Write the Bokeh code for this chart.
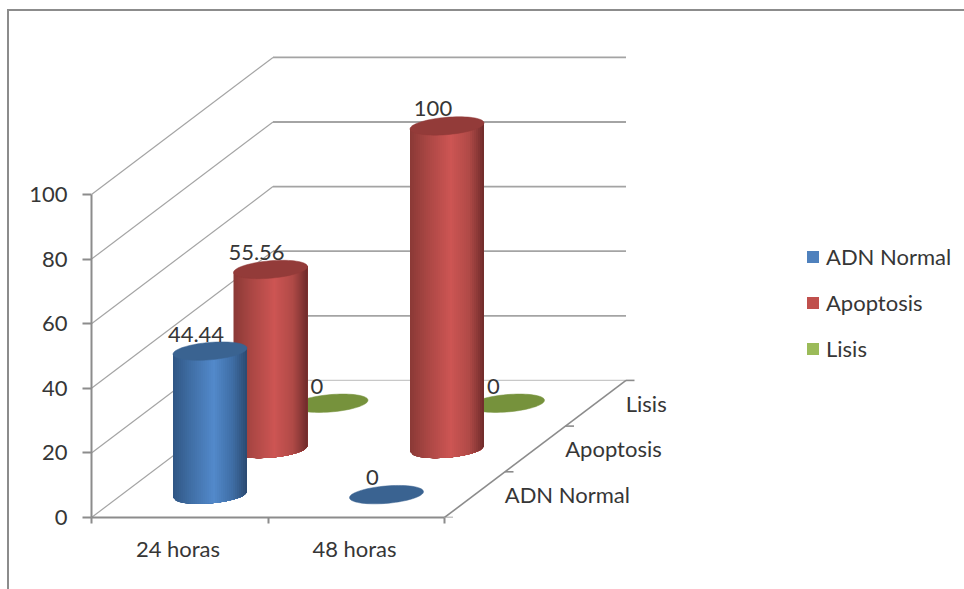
import numpy as np
from bokeh.core.properties import value
from bokeh.embed import file_html
from bokeh.models import (ColumnDataSource, FixedTicker, InlineStyleSheet, Legend, LegendItem,
                          LinearAxis, Range1d)
from bokeh.plotting import figure
from bokeh.resources import INLINE

categories = ["24 horas", "48 horas"]
series_names = ["ADN Normal", "Apoptosis", "Lisis"]
adn_normal = [44.44, 0]
apoptosis = [55.56, 100]
lisis = [0, 0]
value_ticks = [0, 20, 40, 60, 80, 100]

FONT = "Lato"
FONT_SIZE = "22px"
TEXT = "#363636"
AXIS = "#8c8c8c"
GRID = "#a4a4a4"

# Oblique projection: one depth step moves a point right and up, in data units.
PX_PER_CAT = 176.5
PX_PER_VAL = 3.23
DEPTH_X = 60.5 / PX_PER_CAT
DEPTH_Y = 45.7 / PX_PER_VAL
N_DEPTH = len(series_names)
N_CAT = len(categories)
VAL_MAX = value_ticks[-1]

# Cylinder footprint, a sheared ellipse.
RX = 37 / PX_PER_CAT
RY = 8.7 / PX_PER_VAL
TILT = 3 / PX_PER_VAL

STYLES = {
    "ADN Normal": dict(legend="#4f81bd", cap="#3a6391",
                       stops=["#2f5684", "#3f6da3", "#5289cb", "#3f6ea6", "#2b4a70"]),
    "Apoptosis": dict(legend="#c0504d", cap="#933b39",
                      stops=["#8a3936", "#a84643", "#cd5553", "#b04a47", "#6f2b2a"]),
    "Lisis": dict(legend="#9bbb59", cap="#76923c",
                  stops=["#5f7a30", "#76923c", "#9bbb59", "#76923c", "#566e2b"]),
}


def project(cat, depth, val):
    return cat + depth * DEPTH_X, val + depth * DEPTH_Y


def shade(stops, u):
    rgb = np.array([[int(c[i:i + 2], 16) for i in (1, 3, 5)] for c in stops], float)
    pos = [-1, -0.55, 0.1, 0.6, 1]
    vals = [int(round(np.interp(u, pos, rgb[:, k]))) for k in range(3)]
    return "#%02x%02x%02x" % tuple(vals)


def ellipse_outline(cx, cy, n=72):
    t = np.linspace(0, 2 * np.pi, n)
    return (cx + RX * np.cos(t)).tolist(), (cy + RY * np.sin(t) + TILT * np.cos(t)).tolist()


def body_strips(cx, base, top, stops, n=37):
    # Each band reaches the right edge and the next one paints over it,
    # which leaves no seams between neighbouring shades.
    edges = np.linspace(-1, 1, n + 1)
    xs, ys, colors = [], [], []
    for lo, hi in zip(edges[:-1], edges[1:]):
        us = np.linspace(lo, 1, max(3, int((1 - lo) * 12)))
        arc = base - RY * np.sqrt(np.clip(1 - us ** 2, 0, 1)) + TILT * us
        xs.append((cx + RX * us).tolist() + [cx + RX, cx + RX * lo])
        ys.append(arc.tolist() + [top + TILT, top + TILT * lo])
        colors.append(shade(stops, (lo + hi) / 2))
    return xs, ys, colors


p = figure(
    width=964, height=589, output_backend="svg", toolbar_location=None,
    x_range=Range1d(0, (964 - 91) / PX_PER_CAT),
    y_range=Range1d(0, 517 / PX_PER_VAL),
    x_axis_type=None, y_axis_type=None,
    min_border_left=91, min_border_bottom=72, min_border_right=0, min_border_top=0,
    outline_line_color=None, background_fill_color="white", border_fill_color="white",
)
p.grid.visible = False

# Value axis
y_axis = LinearAxis(
    ticker=FixedTicker(ticks=value_ticks), bounds=(0, VAL_MAX),
    major_tick_in=0, major_tick_out=9, minor_tick_line_color=None,
    major_tick_line_color=AXIS, major_tick_line_width=2,
    axis_line_color=AXIS, axis_line_width=2, major_label_standoff=15,
    major_label_text_font=FONT, major_label_text_font_size=FONT_SIZE,
    major_label_text_color=TEXT,
)
p.add_layout(y_axis, "left")

# Category axis: boundary ticks, names centred between them
label_ticks = [i + 0.49 for i in range(N_CAT)]
x_axis = LinearAxis(
    ticker=FixedTicker(ticks=label_ticks, minor_ticks=list(range(N_CAT + 1))),
    bounds=(0, N_CAT),
    major_label_overrides=dict(zip(label_ticks, categories)),
    major_tick_in=0, major_tick_out=0, minor_tick_in=0, minor_tick_out=6,
    minor_tick_line_color=AXIS, minor_tick_line_width=2,
    axis_line_color=AXIS, axis_line_width=2, major_label_standoff=11,
    major_label_text_font=FONT, major_label_text_font_size=FONT_SIZE,
    major_label_text_color=TEXT,
)
p.add_layout(x_axis, "below")

# Gridlines along the side wall and the back wall
for v in value_ticks:
    x0, y0 = project(0, 0, v)
    x1, y1 = project(0, N_DEPTH, v)
    x2, y2 = project(N_CAT, N_DEPTH, v)
    p.line([x0, x1], [y0, y1], line_color=GRID, line_width=1.2)
    p.line([x1, x2], [y1, y2], line_color="#c8c8c8" if v == 0 else GRID,
           line_width=1.2 if v == 0 else 1.8)

# Depth axis on the floor, with its ticks and series names
x0, y0 = project(N_CAT, 0, 0)
x1, y1 = project(N_CAT, N_DEPTH, 0)
p.line([x0, x1], [y0, y1], line_color=AXIS, line_width=1.6)
tick_len = 8.5 / PX_PER_CAT
for d in range(N_DEPTH + 1):
    tx, ty = project(N_CAT, d, 0)
    p.line([tx, tx + tick_len], [ty, ty], line_color=AXIS, line_width=1.6)
lx, ly = zip(*[project(N_CAT, d + 0.5, 0) for d in range(N_DEPTH)])
p.text(list(lx), list(ly), text=series_names, x_offset=30, text_align="left",
       text_baseline="middle", text_font=value(FONT), text_font_size=FONT_SIZE,
       text_color=TEXT)

# Cylinders, drawn from the back row to the front
rows = list(zip(series_names, [adn_normal, apoptosis, lisis]))
labels = {"x": [], "y": [], "text": []}
for depth in reversed(range(N_DEPTH)):
    name, vals = rows[depth]
    style = STYLES[name]
    for cat, v in enumerate(vals):
        cx, base = project(cat + 0.5, depth + 0.5, 0)
        _, top = project(cat + 0.5, depth + 0.5, v)
        if v > 0:
            xs, ys, colors = body_strips(cx, base, top, style["stops"])
            src = ColumnDataSource(dict(xs=xs, ys=ys, color=colors))
            p.patches("xs", "ys", source=src, fill_color="color", line_color=None)
        ex, ey = ellipse_outline(cx, top)
        p.patch(ex, ey, fill_color=style["cap"], line_color=style["cap"], line_width=0.5)
        labels["x"].append(cx)
        labels["y"].append(top)
        labels["text"].append(f"{v:g}")

# Value labels sit above each cap
p.text("x", "y", text="text", source=ColumnDataSource(labels), x_offset=-14, y_offset=-17,
       text_align="center", text_baseline="middle", text_font=value(FONT),
       text_font_size=FONT_SIZE, text_color=TEXT)

# Legend: the swatch renderers carry no visible area of their own
swatches = [
    p.quad(left=[float("nan")], right=[float("nan")], top=[float("nan")], bottom=[float("nan")],
           fill_color=STYLES[n]["legend"], line_color=None)
    for n in series_names
]
legend = Legend(
    items=[LegendItem(label=n, renderers=[r]) for n, r in zip(series_names, swatches)],
    location=(714, 155), orientation="vertical", padding=0, margin=0, spacing=19,
    glyph_width=15, glyph_height=15, label_standoff=6, label_height=22,
    border_line_color=None, background_fill_alpha=0,
    label_text_font=FONT, label_text_font_size=FONT_SIZE, label_text_color=TEXT,
)
p.add_layout(legend, "center")

# Chart area border: top and left edges, running off the page
p.stylesheets = [InlineStyleSheet(css="""
:host::after {
  content: "";
  position: absolute;
  left: 7px;
  top: 9px;
  width: 957px;
  height: 580px;
  box-sizing: border-box;
  border-left: 2px solid #8c8c8c;
  border-top: 2px solid #8c8c8c;
  pointer-events: none;
  z-index: 10;
}
""")]

open("out.html", "w").write(file_html(p, INLINE))
